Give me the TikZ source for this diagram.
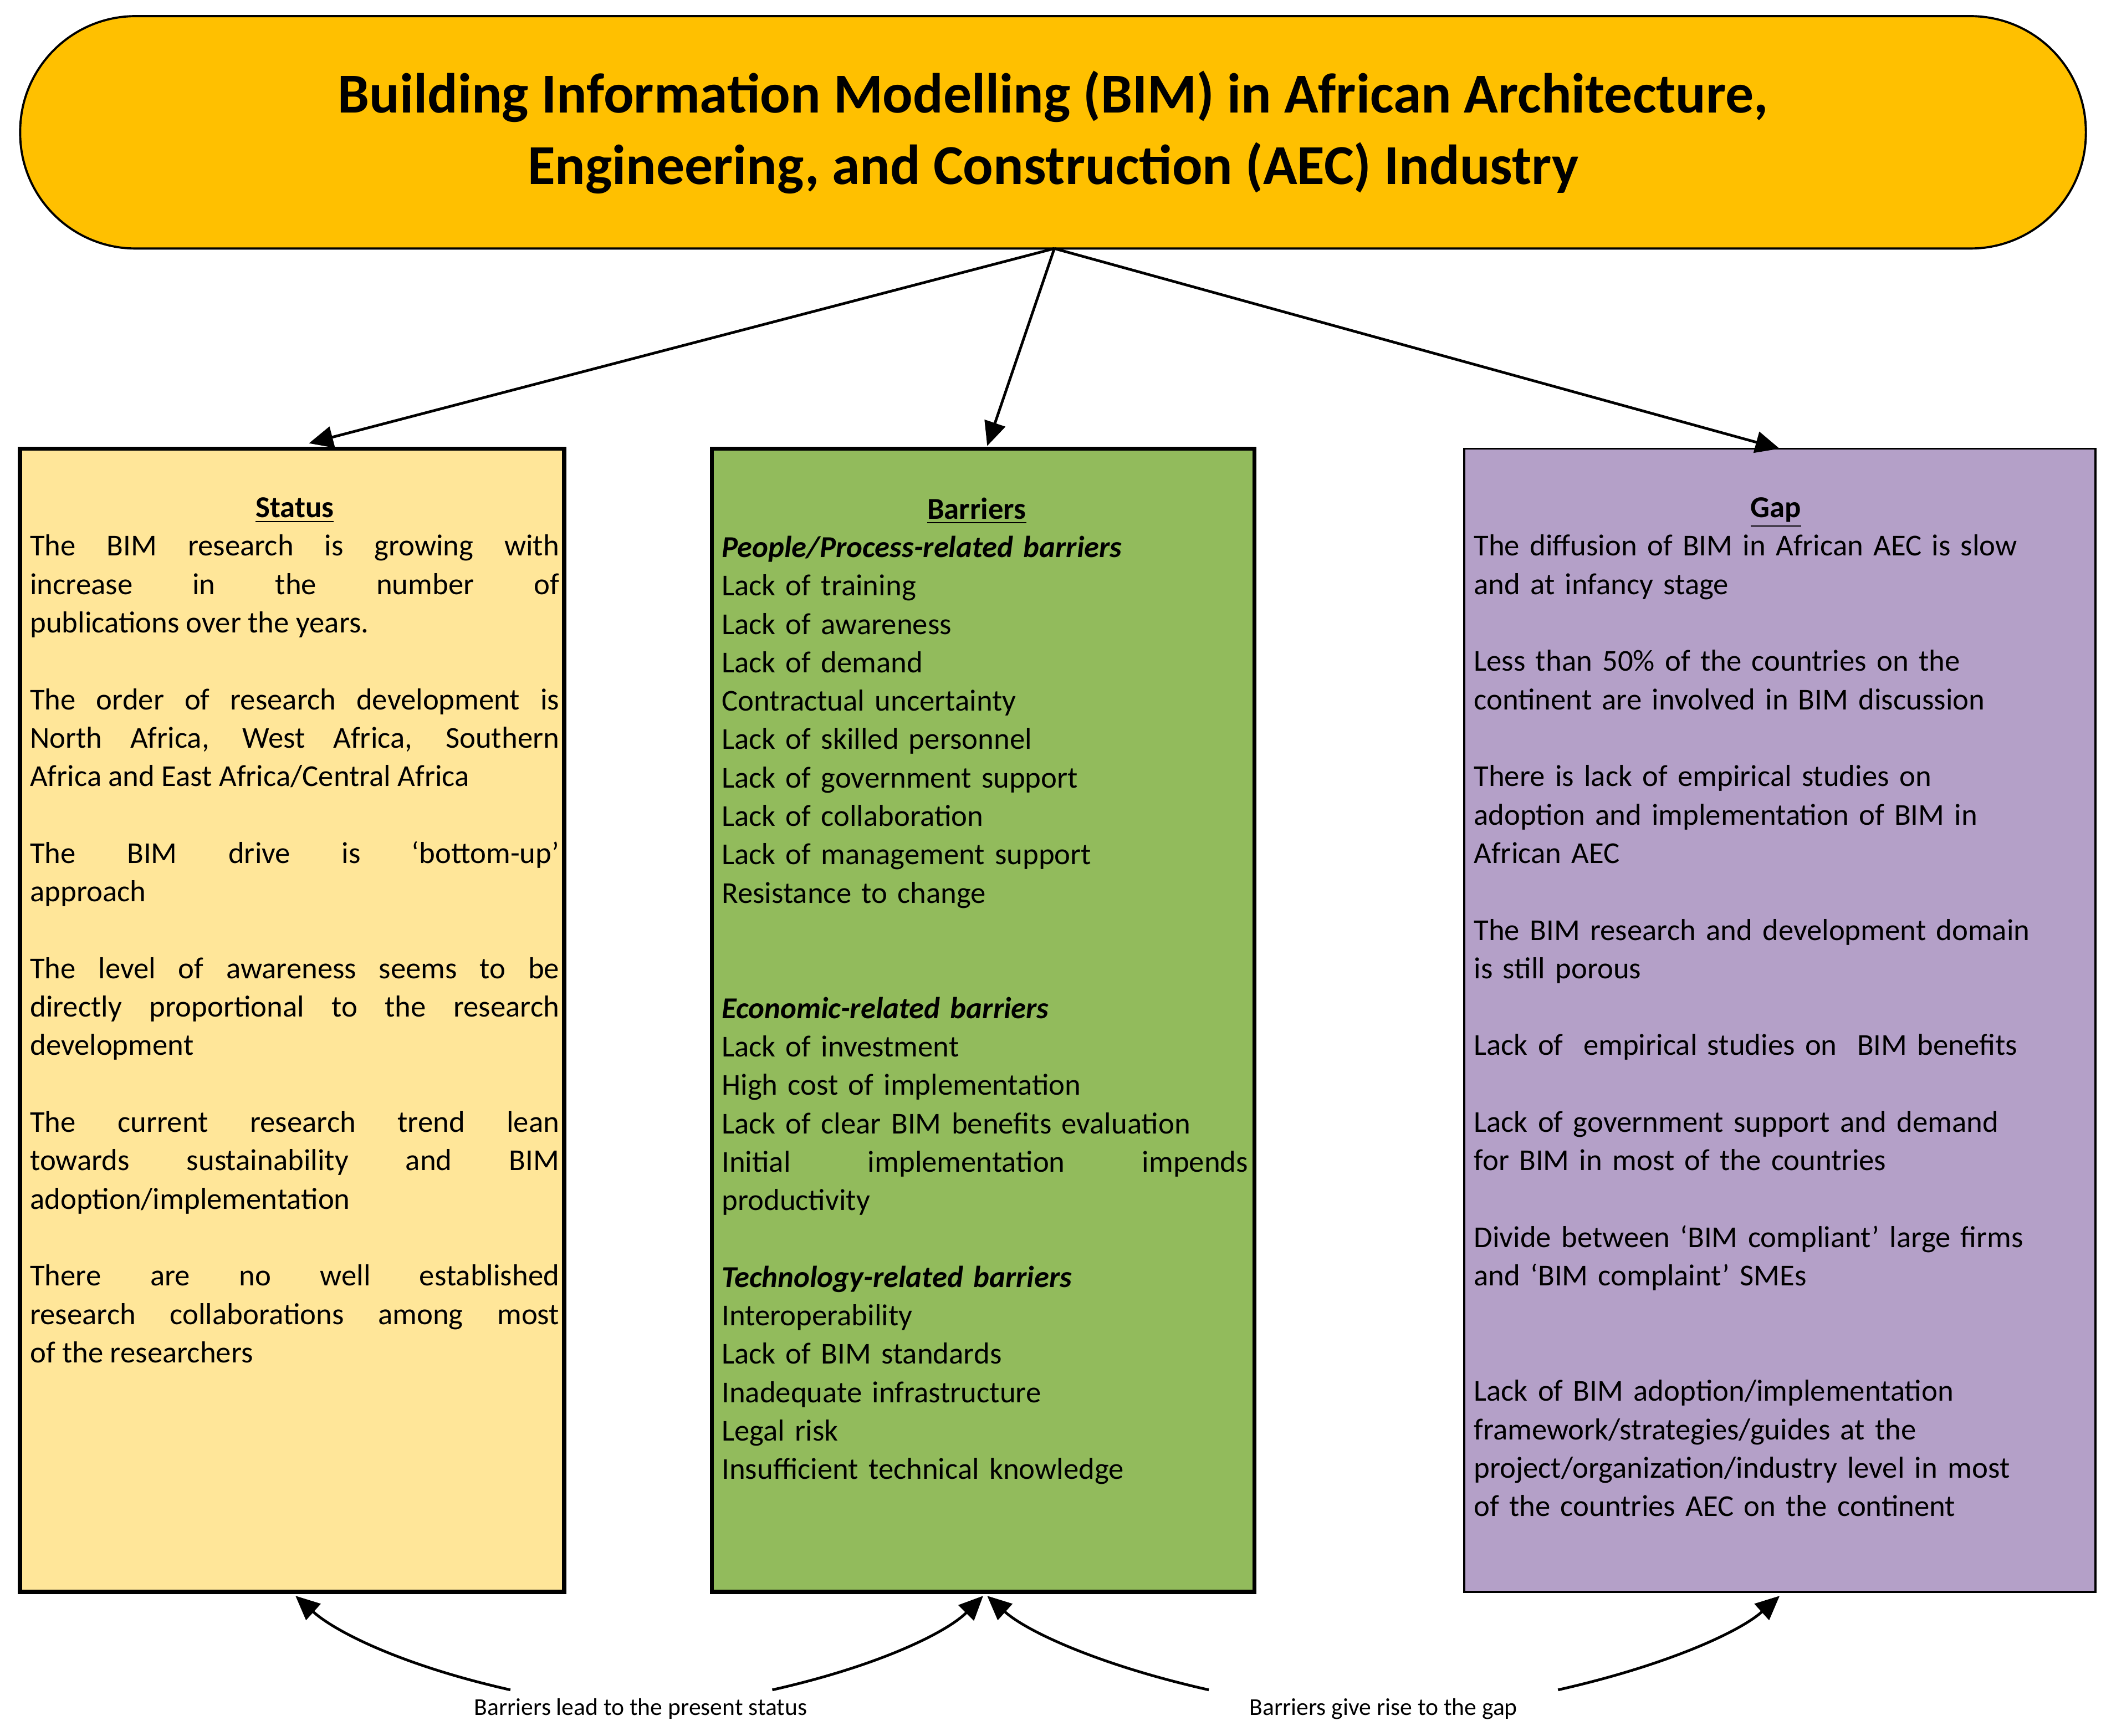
\documentclass[tikz,border=0pt]{standalone}
\usepackage{fontspec}
\setmainfont{Carlito}
\usetikzlibrary{arrows.meta}
\begin{document}
\begin{tikzpicture}[x=0.5pt,y=-0.5pt,
  box/.style={draw=black,line width=1.6pt},
  conn/.style={line width=1pt,-{Triangle[length=9pt,width=8pt]}},
  body/.style={anchor=north west,inner sep=0pt,font=\fontsize{11.3}{14.3}\selectfont},
  lab/.style={font=\fontsize{9}{11}\selectfont,inner sep=1pt}]
\useasboundingbox (0,0) rectangle (1568,1292);
\definecolor{titlec}{HTML}{FFC000}
\definecolor{statc}{HTML}{FFE699}
\definecolor{barc}{HTML}{92BB5C}
\definecolor{gapc}{HTML}{B4A0C8}
\node[draw=black,line width=0.8pt,fill=titlec,rounded corners=43pt,minimum width=769pt,minimum height=86.5pt,align=center,font=\fontsize{21}{26.5}\selectfont\bfseries] (title) at (784,98.5) {Building Information Modelling (BIM) in African Architecture,\\Engineering, and Construction (AEC) Industry};
\node[box,fill=statc,minimum width=202.5pt,minimum height=425.5pt,inner sep=0pt] (status) at (217.5,759.5) {};
\node[box,fill=barc,minimum width=202pt,minimum height=425.5pt,inner sep=0pt] (barr) at (732,759.5) {};
\node[draw=black,line width=0.8pt,fill=gapc,minimum width=235pt,minimum height=425.5pt,inner sep=0pt] (gap) at (1325,759.5) {};
\coordinate (t0) at (785,185);
\draw[conn] (t0) -- (230,330);
\draw[conn] (t0) -- (735,332);
\draw[conn] (t0) -- (1325,334);
\node[body,text width=197pt,align=justify] (st) at (22,370) {%
\makebox[\linewidth]{\textbf{\underline{Status}}}\par
The BIM research is growing with\linebreak increase in the number of\linebreak publications over the years.\par\vspace{14.3pt}
The order of research development is\linebreak North Africa, West Africa, Southern\linebreak Africa and East Africa/Central Africa\par\vspace{14.3pt}
The BIM drive is ‘bottom-up’\linebreak approach\par\vspace{14.3pt}
The level of awareness seems to be\linebreak directly proportional to the research\linebreak development\par\vspace{14.3pt}
The current research trend lean\linebreak towards sustainability and BIM\linebreak adoption/implementation\par\vspace{14.3pt}
There are no well established\linebreak research collaborations among most\linebreak of the researchers};
\node[body,text width=196pt,align=left] (bt) at (537,370) {%
\hspace*{76.5pt}\textbf{\underline{Barriers}}\\
\textbf{\textit{People/Process-related barriers}}\\
Lack of training\\ Lack of awareness\\ Lack of demand\\ Contractual uncertainty\\ Lack of skilled personnel\\ Lack of government support\\ Lack of collaboration\\ Lack of management support\\ Resistance to change\\[28.6pt]
\textbf{\textit{Economic-related barriers}}\\
Lack of investment\\ High cost of implementation\\ Lack of clear BIM benefits evaluation\\
Initial\hfill implementation\hfill impends\\ productivity\\[14.3pt]
\textbf{\textit{Technology-related barriers}}\\
Interoperability\\ Lack of BIM standards\\ Inadequate infrastructure\\ Legal risk\\ Insufficient technical knowledge};
\node[body,text width=229pt,align=left] (gt) at (1097,370) {%
\hspace*{103pt}\textbf{\underline{Gap}}\\
The diffusion of BIM in African AEC is slow\\ and at infancy stage\\[14.3pt]
Less than 50\% of the countries on the\\ continent are involved in BIM discussion\\[14.3pt]
There is lack of empirical studies on\\ adoption and implementation of BIM in\\ African AEC\\[14.3pt]
The BIM research and development domain\\ is still porous\\[14.3pt]
Lack of\ \ empirical studies on\ \ BIM benefits\\[14.3pt]
Lack of government support and demand\\ for BIM in most of the countries\\[14.3pt]
Divide between ‘BIM compliant’ large firms\\ and ‘BIM complaint’ SMEs\\[28.6pt]
Lack of BIM adoption/implementation\\ framework/strategies/guides at the\\ project/organization/industry level in most\\ of the countries AEC on the continent};
\node[lab] (l1) at (477,1272) {Barriers lead to the present status};
\node[lab] (l2) at (1030,1272) {Barriers give rise to the gap};
\draw[conn] (380,1258) .. controls (300,1240) and (250,1215) .. (220,1188);
\draw[conn] (575,1258) .. controls (655,1240) and (705,1215) .. (732,1188);
\draw[conn] (900,1258) .. controls (820,1240) and (765,1215) .. (735,1188);
\draw[conn] (1160,1258) .. controls (1240,1240) and (1295,1215) .. (1325,1188);
\end{tikzpicture}
\end{document}
